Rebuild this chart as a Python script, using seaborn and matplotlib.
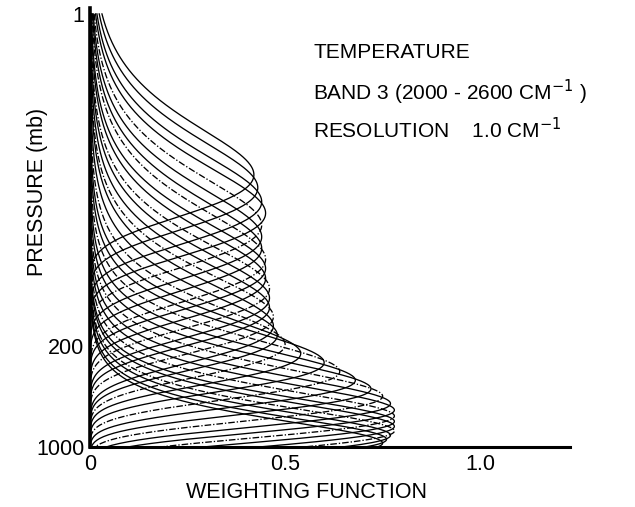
import numpy as np
import pandas as pd
import matplotlib
matplotlib.use("Agg")
import matplotlib.pyplot as plt
import seaborn as sns

# ---- data ----
# pressure (mb) at which each weighting function peaks
peak_pressure = [13, 16, 20, 24, 29, 35, 42, 50, 58, 68, 80, 93, 108, 125, 145,
                 168, 195, 225, 260, 300, 345, 395, 445, 500, 555, 610, 665, 720,
                 775, 830, 885, 940]
# peak value of each weighting function
peak_weight = [0.42, 0.43, 0.44, 0.45, 0.44, 0.44, 0.44, 0.45, 0.45, 0.45, 0.46,
               0.46, 0.46, 0.47, 0.47, 0.48, 0.50, 0.54, 0.60, 0.64, 0.68, 0.72,
               0.75, 0.77, 0.78, 0.78, 0.78, 0.78, 0.78, 0.77, 0.76, 0.75]
# sharpness of each curve (exponent of pressure dependence)
sharpness = [1.4, 1.4, 1.4, 1.4, 1.4, 1.4, 1.4, 1.4, 1.45, 1.45, 1.5, 1.5, 1.55,
             1.6, 1.6, 1.7, 1.8, 1.9, 2.0, 2.1, 2.2, 2.3, 2.4, 2.5, 2.6, 2.7,
             2.8, 2.8, 2.9, 2.9, 3.0, 3.0]
# drawing pattern of each curve in the original (solid / dash-dot)
line_kind = ["solid", "solid", "solid", "solid", "dashdot", "solid", "solid",
             "dashdot", "solid", "solid", "dashdot", "solid", "solid", "dashdot",
             "solid", "solid", "dashdot", "solid", "solid", "dashdot", "solid",
             "solid", "dashdot", "solid", "solid", "dashdot", "solid", "solid",
             "dashdot", "solid", "solid", "solid"]

x_ticks = [0, 0.5, 1.0]
x_ticklabels = ["0", "0.5", "1.0"]
y_ticks = [1, 200, 1000]
y_ticklabels = ["1", "200", "1000"]

# ---- build table ----
p_grid = np.geomspace(1, 1000, 500)
rows = []
for i, (p0, a, k, kind) in enumerate(zip(peak_pressure, peak_weight, sharpness, line_kind)):
    u = (p_grid / p0) ** k
    w = a * np.e * u * np.exp(-u)
    rows.append(pd.DataFrame({"curve": i, "pressure": p_grid, "weight": w, "kind": kind}))
df = pd.concat(rows, ignore_index=True)

FONT = ["Liberation Sans", "DejaVu Sans"]
plt.rcParams["font.family"] = FONT

fig = plt.figure(figsize=(6.35, 5.07), dpi=100)
ax = fig.add_axes([90 / 635, 60 / 507, 480 / 635, 439 / 507])

sns.lineplot(data=df, x="weight", y="pressure", units="curve", estimator=None,
             sort=False, style="kind", dashes={"solid": "", "dashdot": (5, 1.5, 1, 1.5)},
             color="black", linewidth=0.95, legend=False, ax=ax)

ax.set_yscale("log")
ax.set_ylim(1000, 0.91)
ax.set_xlim(0, 1.23)

ax.set_xticks(x_ticks)
ax.set_xticklabels(x_ticklabels, fontsize=15.5)
ax.set_yticks(y_ticks)
ax.set_yticklabels(y_ticklabels, fontsize=15.5)
ax.yaxis.set_minor_locator(matplotlib.ticker.NullLocator())
ax.tick_params(axis="both", length=0, pad=4)
ax.tick_params(axis="x", pad=5)
ax.set_xlabel("")
ax.set_ylabel("")

for s in ["top", "right"]:
    ax.spines[s].set_visible(False)
ax.spines["left"].set_linewidth(2.6)
ax.spines["bottom"].set_linewidth(2.2)
ax.set_facecolor("white")

fig.text(307 / 635, 1 - 492 / 507, "WEIGHTING FUNCTION", ha="center", va="center",
         fontsize=15.5)
fig.text(38 / 635, 1 - 192 / 507, "PRESSURE (mb)", ha="center", va="center",
         rotation=90, fontsize=15.5)

fig.text(313 / 635, 1 - 52 / 507, "TEMPERATURE", ha="left", va="center", fontsize=15)
fig.text(313 / 635, 1 - 92 / 507, r"BAND 3 (2000 - 2600 CM$^{-1}$ )", ha="left",
         va="center", fontsize=15)
fig.text(313 / 635, 1 - 130 / 507, r"RESOLUTION    1.0 CM$^{-1}$", ha="left",
         va="center", fontsize=15)

fig.savefig("out.png", dpi=100, facecolor="white")
